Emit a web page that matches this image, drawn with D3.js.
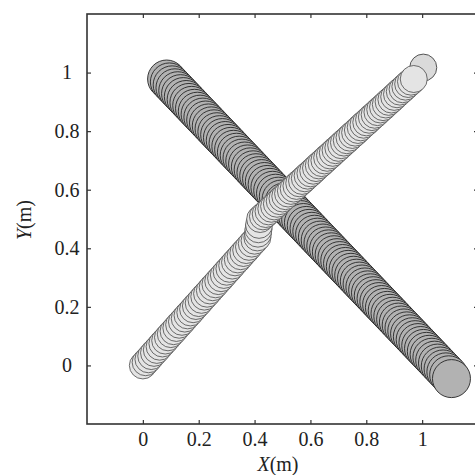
<!DOCTYPE html>
<html>
<head>
<meta charset="utf-8">
<script src="https://cdn.jsdelivr.net/npm/d3@7"></script>
<style>
  body { margin: 0; background: #fff; }
  svg text { font-family: "Liberation Serif", "Times New Roman", serif; fill: #222; }
</style>
</head>
<body>
<div class="panel"></div>
<script>
// trajectory of the first robot (dark), top-left -> bottom-right
const darkX = [0.085,0.095,0.105,0.115,0.125,0.135,0.145,0.155,0.165,0.175,
  0.185,0.195,0.205,0.215,0.225,0.235,0.245,0.255,0.265,0.275,
  0.285,0.295,0.305,0.315,0.325,0.335,0.345,0.355,0.365,0.375,
  0.385,0.395,0.405,0.415,0.425,0.435,0.445,0.455,0.465,0.475,
  0.485,0.495,0.505,0.515,0.525,0.535,0.545,0.555,0.565,0.575,
  0.585,0.595,0.605,0.615,0.625,0.635,0.645,0.655,0.665,0.675,
  0.685,0.695,0.705,0.715,0.725,0.735,0.745,0.755,0.765,0.775,
  0.785,0.795,0.805,0.815,0.825,0.835,0.845,0.855,0.865,0.875,
  0.885,0.895,0.905,0.915,0.925,0.935,0.945,0.955,0.965,0.975,
  0.985,0.995,1.005,1.015,1.025,1.035,1.045,1.055,1.065,1.075,
  1.085,1.095,1.105];
const darkY = [0.978,0.968,0.958,0.948,0.938,0.928,0.918,0.908,0.898,0.888,
  0.878,0.868,0.858,0.848,0.838,0.828,0.818,0.808,0.798,0.788,
  0.778,0.768,0.758,0.748,0.738,0.728,0.718,0.708,0.698,0.688,
  0.678,0.668,0.658,0.648,0.638,0.628,0.618,0.608,0.598,0.588,
  0.578,0.568,0.558,0.548,0.538,0.528,0.518,0.508,0.498,0.488,
  0.478,0.468,0.458,0.448,0.438,0.428,0.418,0.408,0.398,0.388,
  0.378,0.368,0.358,0.348,0.338,0.328,0.318,0.308,0.298,0.288,
  0.278,0.268,0.258,0.248,0.238,0.228,0.218,0.208,0.198,0.188,
  0.178,0.168,0.158,0.148,0.138,0.128,0.118,0.108,0.098,0.088,
  0.078,0.068,0.058,0.048,0.038,0.028,0.018,0.008,-0.002,-0.012,
  -0.022,-0.032,-0.045];

// trajectory of the second robot (light), bottom-left -> top-right
const lightX = [0.000,0.010,0.020,0.030,0.040,0.050,0.060,0.070,0.080,0.090,
  0.100,0.110,0.120,0.130,0.140,0.150,0.160,0.170,0.180,0.190,
  0.200,0.210,0.220,0.230,0.240,0.250,0.260,0.270,0.280,0.290,
  0.300,0.310,0.320,0.330,0.340,0.350,0.360,0.370,0.380,0.390,
  0.400,0.410,0.412,0.414,0.416,0.420,
  0.430,0.440,0.450,0.460,0.470,0.480,0.490,0.500,0.510,0.520,
  0.530,0.540,0.550,0.560,0.570,0.580,0.590,0.600,0.610,0.620,
  0.630,0.640,0.650,0.660,0.670,0.680,0.690,0.700,0.710,0.720,
  0.730,0.740,0.750,0.760,0.770,0.780,0.790,0.800,0.810,0.820,
  0.830,0.840,0.850,0.860,0.870,0.880,0.890,0.900,0.910,0.920,
  0.930,0.940,0.950,0.960,0.970];
const lightY = [0.000,0.011,0.021,0.032,0.043,0.053,0.064,0.075,0.085,0.096,
  0.107,0.117,0.128,0.139,0.149,0.160,0.171,0.181,0.192,0.203,
  0.213,0.224,0.235,0.245,0.256,0.267,0.277,0.288,0.298,0.309,
  0.320,0.330,0.341,0.352,0.362,0.373,0.384,0.394,0.405,0.416,
  0.426,0.437,0.450,0.465,0.480,0.500,
  0.509,0.517,0.526,0.535,0.543,0.552,0.561,0.570,0.578,0.587,
  0.596,0.604,0.613,0.622,0.630,0.639,0.648,0.656,0.665,0.674,
  0.683,0.691,0.700,0.709,0.717,0.726,0.735,0.743,0.752,0.761,
  0.769,0.778,0.787,0.795,0.804,0.813,0.822,0.830,0.839,0.848,
  0.856,0.865,0.874,0.882,0.891,0.900,0.908,0.917,0.926,0.935,
  0.943,0.952,0.961,0.969,0.978];

const lightGoal = [1.004, 1.017];

const xTicks = [0, 0.2, 0.4, 0.6, 0.8, 1];
const yTicks = [0, 0.2, 0.4, 0.6, 0.8, 1];

const width = 475;
const height = 475;
const m = { left: 87, right: 478, top: 14, bottom: 424 };
const darkR = 19;
const lightR = 13.5;

const svg = d3.select(".panel")
  .append("svg")
  .attr("width", width)
  .attr("height", height);

const xScale = d3.scaleLinear().domain([-0.2, 1.2]).range([m.left, m.right]);
const yScale = d3.scaleLinear().domain([-0.2, 1.2]).range([m.bottom, m.top]);

const dark = darkX.map((x, i) => [x, darkY[i]]);
const light = lightX.map((x, i) => [x, lightY[i]]);

const plot = svg.append("g");

plot.selectAll("circle.dark")
  .data(dark)
  .join("circle")
  .attr("class", "dark")
  .attr("cx", d => xScale(d[0]))
  .attr("cy", d => yScale(d[1]))
  .attr("r", darkR)
  .attr("fill", "#b2b2b2")
  .attr("stroke", "#262626")
  .attr("stroke-width", 0.9);

plot.append("circle")
  .attr("cx", xScale(lightGoal[0]))
  .attr("cy", yScale(lightGoal[1]))
  .attr("r", lightR)
  .attr("fill", "#dadada")
  .attr("stroke", "#444")
  .attr("stroke-width", 0.9);

plot.selectAll("circle.light")
  .data(light)
  .join("circle")
  .attr("class", "light")
  .attr("cx", d => xScale(d[0]))
  .attr("cy", d => yScale(d[1]))
  .attr("r", lightR)
  .attr("fill", "#e4e4e4")
  .attr("stroke", "#4a4a4a")
  .attr("stroke-width", 0.8);

// axes, ticks point inward
const fontSize = 20;

svg.append("g")
  .attr("transform", `translate(0,${m.bottom})`)
  .call(d3.axisBottom(xScale).tickValues(xTicks).tickSize(-4).tickPadding(8).tickFormat(d3.format("")));
svg.append("g")
  .attr("transform", `translate(0,${m.top})`)
  .call(d3.axisTop(xScale).tickValues(xTicks).tickSize(-4).tickFormat(""));

const yAxis = svg.append("g")
  .attr("transform", `translate(${m.left},0)`)
  .call(d3.axisLeft(yScale).tickValues(yTicks).tickSize(-4).tickFormat(d3.format("")));
svg.append("g")
  .attr("transform", `translate(${m.right},0)`)
  .call(d3.axisRight(yScale).tickValues(yTicks).tickSize(-4).tickFormat(""));

svg.selectAll(".domain").remove();
svg.selectAll(".tick line").attr("stroke", "#333").attr("stroke-width", 1.2);
svg.selectAll(".tick text")
  .attr("font-family", "Liberation Serif, Times New Roman, serif")
  .attr("font-size", fontSize)
  .attr("fill", "#222");
yAxis.selectAll(".tick text")
  .attr("text-anchor", "middle")
  .attr("x", -20);

svg.append("rect")
  .attr("x", m.left)
  .attr("y", m.top)
  .attr("width", m.right - m.left)
  .attr("height", m.bottom - m.top)
  .attr("fill", "none")
  .attr("stroke", "#333")
  .attr("stroke-width", 1.6);

const xl = svg.append("text")
  .attr("x", 278)
  .attr("y", 471)
  .attr("text-anchor", "middle")
  .attr("font-size", fontSize);
xl.append("tspan").attr("font-style", "italic").text("X");
xl.append("tspan").text("(m)");

const yl = svg.append("text")
  .attr("transform", "translate(31,220) rotate(-90)")
  .attr("text-anchor", "middle")
  .attr("font-size", fontSize);
yl.append("tspan").attr("font-style", "italic").text("Y");
yl.append("tspan").text("(m)");
</script>
</body>
</html>
